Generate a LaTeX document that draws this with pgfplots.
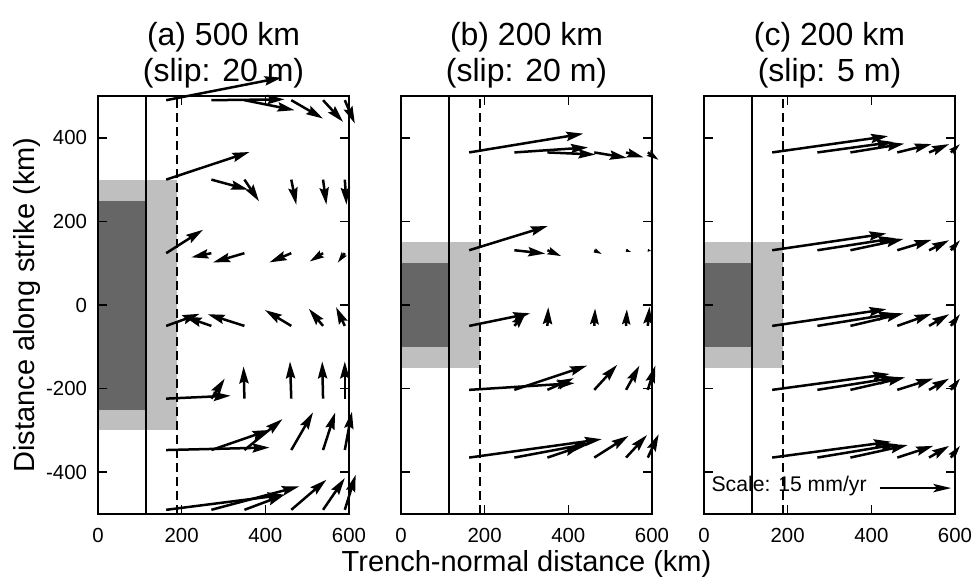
\documentclass[border=0pt]{standalone}
\usepackage{fontspec}
\setmainfont{Liberation Sans}
\usepackage{pgfplots}
\pgfplotsset{compat=1.18}
\usepackage{pgfplotstable}
\usetikzlibrary{arrows.meta}

\definecolor{lgray}{gray}{0.75}
\definecolor{dgray}{gray}{0.4}

% Panel (a): 500 km, slip 20 m
\pgfplotstableread{
x y u v
163 490 276 54
271 490 175 2
350 490 120 -24
462 490 76 -44
538 490 48 -52
590 490 24 -56
163 300 199 66
271 300 88 -24
350 300 35 -52
462 300 12 -60
538 300 8 -60
590 300 4 -60
163 124 88 56
271 124 -48 -10
350 124 -75 -22
462 124 -52 -22
538 124 -32 -20
590 124 -17 -23
163 -50 80 29
271 -50 -64 22
350 -50 -88 28
462 -50 -63 38
538 -50 -34 41
590 -50 -21 45
163 -224 154 7
271 -224 32 48
350 -224 -2 77
462 -224 -3 89
538 -224 -2 89
590 -224 0 89
163 -347 247 6
271 -347 139 48
350 -347 91 74
462 -347 52 90
538 -347 29 90
590 -347 17 92
163 -490 283 36
271 -490 210 56
350 -490 96 36
462 -490 84 72
538 -490 52 76
590 -490 26 84
}\tabA

% Panel (b): 200 km, slip 20 m
\pgfplotstableread{
x y u v
163 365 273 45
271 365 176 12
350 365 115 -5
462 365 78 -13
538 365 42 -12
590 365 26 -18
163 131 188 58
271 131 74 -8
350 131 33 -14
462 131 18 -9
538 131 12 -4
590 131 9 -2
163 -50 146 30
271 -50 28 32
350 -50 2 45
462 -50 2 42
538 -50 2 40
590 -50 4 46
163 -203 252 16
271 -203 174 58
350 -203 63 28
462 -203 55 60
538 -203 32 58
590 -203 18 58
163 -365 317 44
271 -365 182 34
350 -365 83 28
462 -365 82 52
538 -365 50 54
590 -365 26 56
}\tabB

% Panel (c): 200 km, slip 5 m
\pgfplotstableread{
x y u v
163 365 277 39
271 365 182 25
350 365 129 21
462 365 82 20
538 365 48 20
590 365 22 20
163 131 273 40
271 131 186 29
350 131 127 27
462 131 82 25
538 131 48 24
590 131 22 24
163 -50 273 40
271 -50 186 30
350 -50 127 30
462 -50 82 29
538 -50 48 28
590 -50 22 28
163 -203 281 38
271 -203 190 30
350 -203 131 30
462 -203 86 27
538 -203 48 27
590 -203 22 27
163 -365 284 38
271 -365 192 32
350 -365 137 30
462 -365 86 28
538 -365 48 28
590 -365 22 28
}\tabC

\pgfplotstableread{
x y u v
420 -438 171 0
}\tabScale

\pgfplotsset{
  panel/.style={
    scale only axis, width=125.5bp, height=209bp,
    xmin=0, xmax=600, ymin=-500, ymax=500,
    xtick={0,200,400,600}, ytick={-400,-200,0,200,400},
    clip=false, axis on top,
    axis line style={line width=0.8bp},
    every tick/.style={line width=0.8bp, black},
    major tick length=4.5bp,
    tick label style={font=\fontsize{10.2bp}{12bp}\selectfont},
    /pgf/number format/assume math mode=true,
    xticklabel style={yshift=-3.5bp},
    yticklabel style={xshift=-2bp},
    title style={at={(0.5,1)}, anchor=south, yshift=-2bp, inner sep=0pt,
      align=center, font=\fontsize{16bp}{18bp}\selectfont},
    point meta min=0, point meta max=45,
  },
  arr/.style={
    line width=1.25bp, black,
    point meta={sqrt((\thisrow{u})^2+(\thisrow{v})^2)},
    quiver={u=\thisrow{u}, v=\thisrow{v},
      every arrow/.append style={line width=1.25bp,
        -{Stealth[length=8.5bp,width=4.6bp,inset=1.2bp,
          scale={min(1,\pgfplotspointmetatransformed/1000)}]}}},
  },
  vsolid/.style={black, line width=0.8bp},
  vdash/.style={black, line width=1bp, dash pattern=on 4.5bp off 2.5bp},
}

\begin{document}
\begin{tikzpicture}
\path[use as bounding box] (-49bp,-33bp) rectangle (439bp,257bp);

% ---------- Panel (a)
\begin{axis}[panel, at={(0bp,0bp)}, anchor=south west,
  title={(a) 500 km\\(slip: 20 m)},
  ylabel={Distance along strike (km)},
  every axis y label/.style={at={(axis description cs:-0.283,0.5)},
    rotate=90, anchor=center, font=\fontsize{14.5bp}{17bp}\selectfont},
]
\addplot[fill=lgray, draw=none] coordinates {(0,-300) (190,-300) (190,300) (0,300)} -- cycle;
\addplot[fill=dgray, draw=none] coordinates {(0,-250) (112,-250) (112,250) (0,250)} -- cycle;
\addplot[vsolid] coordinates {(115,-500) (115,500)};
\addplot[vdash] coordinates {(190,-500) (190,500)};
\addplot[arr] table {\tabA};
\end{axis}

% ---------- Panel (b)
\begin{axis}[panel, at={(151.5bp,0bp)}, anchor=south west,
  yticklabels={},
  title={(b) 200 km\\(slip: 20 m)},
  xlabel={Trench-normal distance (km)},
  every axis x label/.style={at={(axis description cs:0.5,0)},
    anchor=base, yshift=-28.5bp, font=\fontsize{14.5bp}{17bp}\selectfont},
]
\addplot[fill=lgray, draw=none] coordinates {(0,-150) (190,-150) (190,150) (0,150)} -- cycle;
\addplot[fill=dgray, draw=none] coordinates {(0,-100) (112,-100) (112,100) (0,100)} -- cycle;
\addplot[vsolid] coordinates {(115,-500) (115,500)};
\addplot[vdash] coordinates {(190,-500) (190,500)};
\addplot[arr] table {\tabB};
\end{axis}

% ---------- Panel (c)
\begin{axis}[panel, at={(303bp,0bp)}, anchor=south west,
  yticklabels={},
  title={(c) 200 km\\(slip: 5 m)},
]
\addplot[fill=lgray, draw=none] coordinates {(0,-150) (190,-150) (190,150) (0,150)} -- cycle;
\addplot[fill=dgray, draw=none] coordinates {(0,-100) (112,-100) (112,100) (0,100)} -- cycle;
\addplot[vsolid] coordinates {(115,-500) (115,500)};
\addplot[vdash] coordinates {(190,-500) (190,500)};
\addplot[arr] table {\tabC};
\addplot[black, line width=0.8bp,
  quiver={u=\thisrow{u}, v=\thisrow{v},
    every arrow/.append style={line width=0.8bp, -{Stealth[length=9bp,width=4.2bp,inset=2bp]}}}]
  table {\tabScale};
\node[anchor=base west, inner sep=0pt, font=\fontsize{10.6bp}{12bp}\selectfont]
  at (axis cs:17,-446) {Scale: 15 mm/yr};
\end{axis}
\end{tikzpicture}
\end{document}
